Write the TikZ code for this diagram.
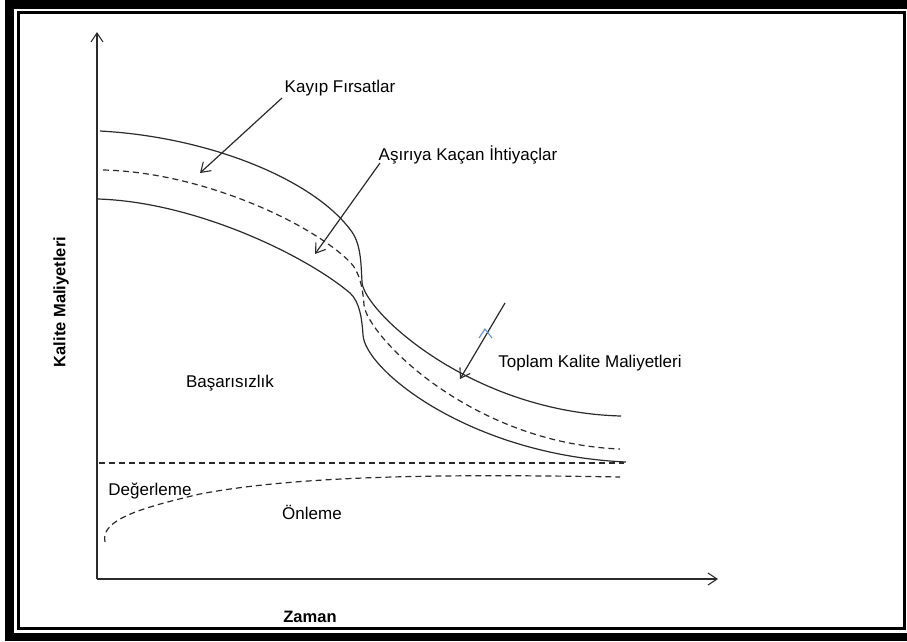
\documentclass[tikz,border=0pt]{standalone}
\usepackage{fontspec}
\setmainfont{Liberation Sans}
\usetikzlibrary{arrows.meta}

\definecolor{ink}{HTML}{2B2B2B}
\definecolor{caretblue}{HTML}{5B8FD6}

\tikzset{
  axisline/.style={draw=ink, line width=1.3pt, -{Straight Barb[length=9pt,width=12pt,line width=1.1pt]}},
  costcurve/.style={draw=ink, line width=1.2pt},
  dashcurve/.style={draw=ink, line width=1.2pt, dash pattern=on 6pt off 4pt},
  pointer/.style={draw=ink, line width=1.2pt, -{Straight Barb[length=9pt,width=12pt,line width=1.1pt]}},
  lbl/.style={font=\fontsize{17}{19}\selectfont, text=black, inner sep=0pt},
  axislbl/.style={font=\fontsize{16.5}{18}\selectfont\bfseries, text=black, inner sep=0pt},
}

\begin{document}
\begin{tikzpicture}[x=1pt,y=-1pt]
\useasboundingbox (0,0) rectangle (907,641);
\fill[white] (0,0) rectangle (907,641);

% heavy outer frame (top, left, bottom bands) and thin inner frame
\fill[black] (5,0) rectangle (907,9);
\fill[black] (5,0) rectangle (14,641);
\fill[black] (5,633) rectangle (907,641);
\draw[black, line width=3pt] (18.5,12.5) rectangle (904.5,628.5);

% axes
\coordinate (origin) at (97,579);
\coordinate (ytip) at (97,32);
\coordinate (xtip) at (718,579);
\draw[axisline] (origin) -- (ytip);
\draw[axisline] (origin) -- (xtip);

\node[axislbl, rotate=90] (ylabel) at (61,302) {Kalite Maliyetleri};
\node[axislbl] (xlabel) at (310,617) {Zaman};

% total quality cost curve (upper solid)
\draw[costcurve] (100,131) .. controls (210,137) and (315,180) .. (352,232)
  .. controls (361,245) and (361,264) .. (362,282)
  .. controls (363,310) and (470,412) .. (621,416);

% middle dashed curve
\draw[dashcurve] (103,170) .. controls (200,172) and (310,222) .. (350,262)
  .. controls (360,272) and (363,290) .. (364,305)
  .. controls (367,335) and (470,443) .. (620,449);

% lower solid curve
\draw[costcurve] (98,199) .. controls (195,202) and (305,255) .. (350,293)
  .. controls (360,302) and (362,320) .. (363,335)
  .. controls (365,370) and (470,455) .. (626,462);

% appraisal level and prevention curve
\draw[dashcurve] (99,463) -- (624,463);
\draw[dashcurve] (105,542) .. controls (100,520) and (140,508) .. (200,494)
  .. controls (300,475) and (450,474) .. (620,477);

% labels
\node[lbl] (kayip) at (340,88) {Kayıp Fırsatlar};
\node[lbl] (asiri) at (468,155) {Aşırıya Kaçan İhtiyaçlar};
\node[lbl] (toplam) at (590,363) {Toplam Kalite Maliyetleri};
\node[lbl] (basari) at (230,383) {Başarısızlık};
\node[lbl] (degerleme) at (150,491) {Değerleme};
\node[lbl] (onleme) at (312,512) {Önleme};

% pointer arrows
\coordinate (kayipFrom) at (282,98);
\coordinate (kayipTo) at (200,173);
\coordinate (asiriFrom) at (380,163);
\coordinate (asiriTo) at (315,254);
\coordinate (toplamFrom) at (505,303);
\coordinate (toplamTo) at (460,379);
\draw[pointer] (kayipFrom) -- (kayipTo);
\draw[pointer] (asiriFrom) -- (asiriTo);
\draw[pointer] (toplamFrom) -- (toplamTo);

% small caret mark
\coordinate (caretL) at (479,338);
\coordinate (caretT) at (485,329);
\coordinate (caretR) at (492,338);
\draw[caretblue, line width=1pt] (caretL) -- (caretT) -- (caretR);
\end{tikzpicture}
\end{document}
